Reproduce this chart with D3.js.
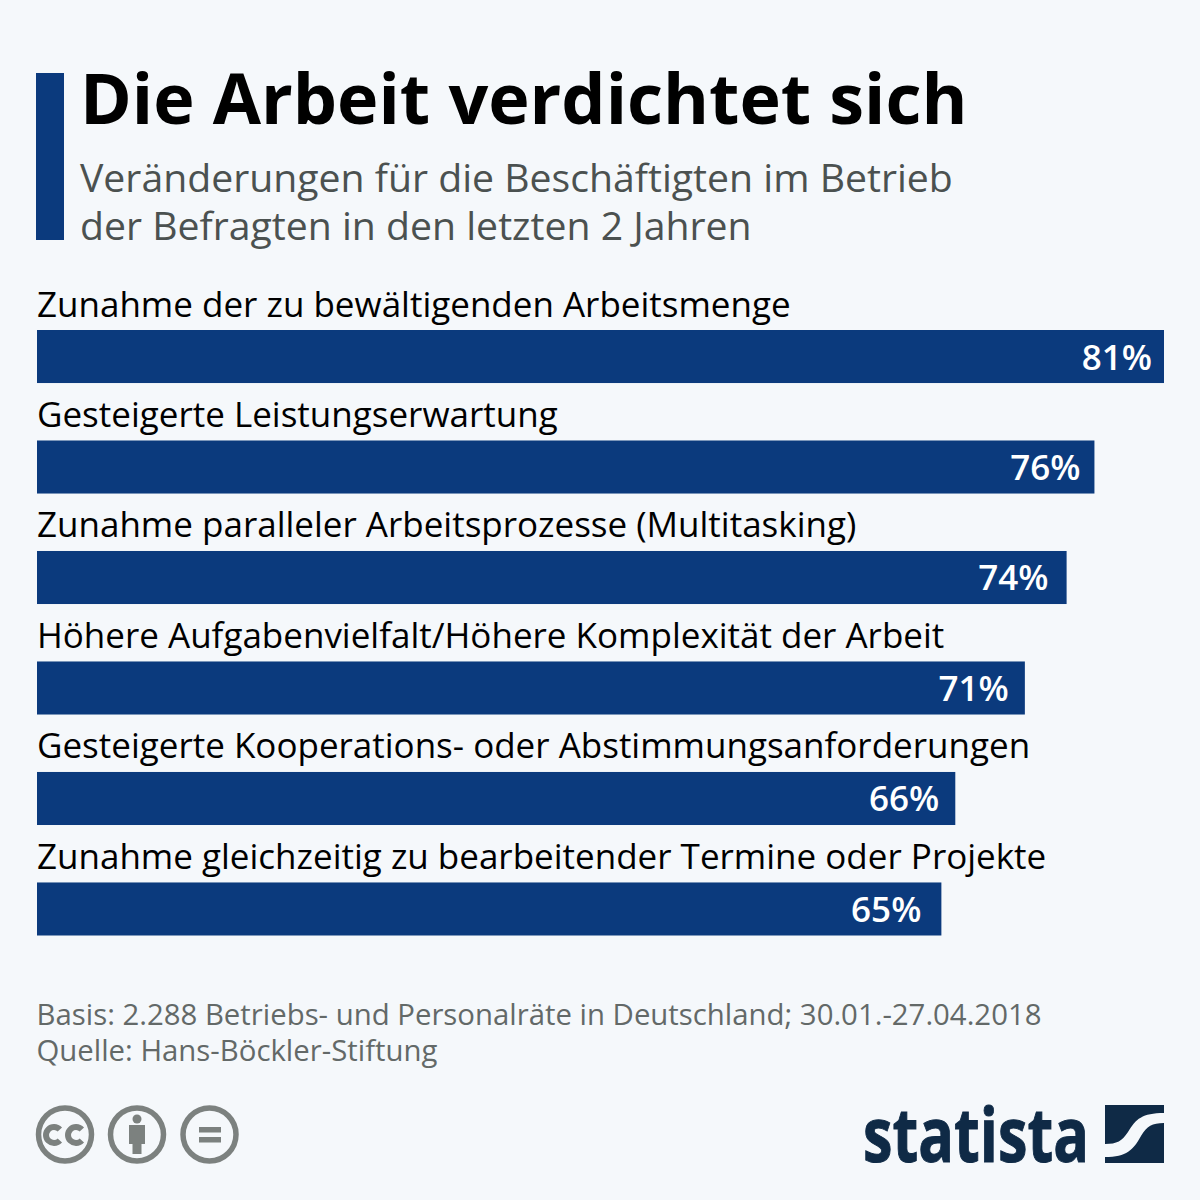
<!DOCTYPE html>
<html>
<head>
<meta charset="utf-8">
<title>Die Arbeit verdichtet sich</title>
<style>
  body { margin: 0; background: #f5f8fb; }
  text { font-family: "Open Sans", sans-serif; }
</style>
<script src="https://cdn.jsdelivr.net/npm/d3@7"></script>
</head>
<body>
<svg id="chart" width="1200" height="1200"></svg>
<script>
var categories = [
  "Zunahme der zu bewältigenden Arbeitsmenge",
  "Gesteigerte Leistungserwartung",
  "Zunahme paralleler Arbeitsprozesse (Multitasking)",
  "Höhere Aufgabenvielfalt/Höhere Komplexität der Arbeit",
  "Gesteigerte Kooperations- oder Abstimmungsanforderungen",
  "Zunahme gleichzeitig zu bearbeitender Termine oder Projekte"
];
var values = [81, 76, 74, 71, 66, 65];
var title = "Die Arbeit verdichtet sich";
var subtitle = ["Veränderungen für die Beschäftigten im Betrieb", "der Befragten in den letzten 2 Jahren"];
var notes = ["Basis: 2.288 Betriebs- und Personalräte in Deutschland; 30.01.-27.04.2018", "Quelle: Hans-Böckler-Stiftung"];

var blue = "#0b3a7d", grey = "#7c817f", navy = "#0f2a46";
var labelInset = [12, 14, 18, 16, 16, 20];
var svg = d3.select("#chart");

var x = d3.scaleLinear().domain([0, 81]).range([37, 1164]);
var y = d3.scaleBand().domain(categories).range([330, 935.5]).paddingInner(0.52);

// header
svg.append("rect").attr("x", 36).attr("y", 73).attr("width", 28).attr("height", 167).attr("fill", blue);
svg.append("text").attr("x", 80).attr("y", 124).attr("font-size", 70).attr("font-weight", 700).attr("fill", "#000").text(title);
svg.selectAll(".sub").data(subtitle).enter().append("text")
  .attr("class", "sub")
  .attr("x", 80).attr("y", function(d, i) { return 192 + i * 48; })
  .attr("font-size", 39.2).attr("fill", "#4b5150").text(function(d) { return d; });

// bars
var rows = svg.selectAll(".row").data(categories).enter().append("g").attr("class", "row");
rows.append("rect")
  .attr("x", x(0))
  .attr("y", function(d) { return y(d); })
  .attr("width", function(d, i) { return x(values[i]) - x(0); })
  .attr("height", y.bandwidth())
  .attr("fill", blue);
rows.append("text")
  .attr("x", 37)
  .attr("y", function(d) { return y(d) - 13.5; })
  .attr("font-size", 35).attr("fill", "#000")
  .text(function(d) { return d; });
rows.append("text")
  .attr("x", function(d, i) { return x(values[i]) - labelInset[i]; })
  .attr("y", function(d) { return y(d) + 39.5; })
  .attr("text-anchor", "end")
  .attr("font-size", 35).attr("font-weight", 600).attr("fill", "#fff")
  .text(function(d, i) { return values[i] + "%"; });

// footer
svg.selectAll(".note").data(notes).enter().append("text")
  .attr("class", "note")
  .attr("x", 36.5).attr("y", function(d, i) { return 1025 + i * 36; })
  .attr("font-size", 29.35).attr("fill", "#636968").text(function(d) { return d; });

// licence icons
var icons = svg.append("g");
[65, 137, 209.5].forEach(function(cx) {
  icons.append("circle").attr("cx", cx).attr("cy", 1134.5).attr("r", 26.5)
    .attr("fill", "none").attr("stroke", grey).attr("stroke-width", 5.5);
});
[[-11], [11]].forEach(function(o) {
  var cx = 65 + o[0], r = 8, a = 0.75;
  icons.append("path")
    .attr("d", "M" + (cx + r * Math.cos(a)) + "," + (1135 - r * Math.sin(a)) +
      "A" + r + "," + r + " 0 1 0 " + (cx + r * Math.cos(a)) + "," + (1135 + r * Math.sin(a)))
    .attr("fill", "none").attr("stroke", grey).attr("stroke-width", 6);
});
icons.append("circle").attr("cx", 137).attr("cy", 1119).attr("r", 4.5).attr("fill", grey);
icons.append("path").attr("d", "M129,1125H145V1144H141.5V1154H132.5V1144H129Z").attr("fill", grey);
icons.append("rect").attr("x", 199).attr("y", 1127).attr("width", 22).attr("height", 5.5).attr("fill", grey);
icons.append("rect").attr("x", 199).attr("y", 1137).attr("width", 22).attr("height", 5.5).attr("fill", grey);

// statista logo
svg.append("text").attr("x", 863).attr("y", 1162)
  .attr("textLength", 226).attr("lengthAdjust", "spacingAndGlyphs")
  .style("font-family", "'Liberation Sans Narrow', 'Open Sans', sans-serif")
  .attr("font-size", 76).attr("font-weight", 700).attr("stroke", navy).attr("stroke-width", 1).attr("fill", navy).text("statista");
svg.append("path")
  .attr("d", "M1105,1105H1164V1113C1142,1113 1136,1119 1128,1132C1122,1141 1117,1144 1105,1144Z")
  .attr("fill", navy);
svg.append("path")
  .attr("d", "M1164,1123V1163H1105V1157C1127,1157 1133,1150 1141,1136C1147,1126 1152,1123 1164,1123Z")
  .attr("fill", navy);
</script>
</body>
</html>
